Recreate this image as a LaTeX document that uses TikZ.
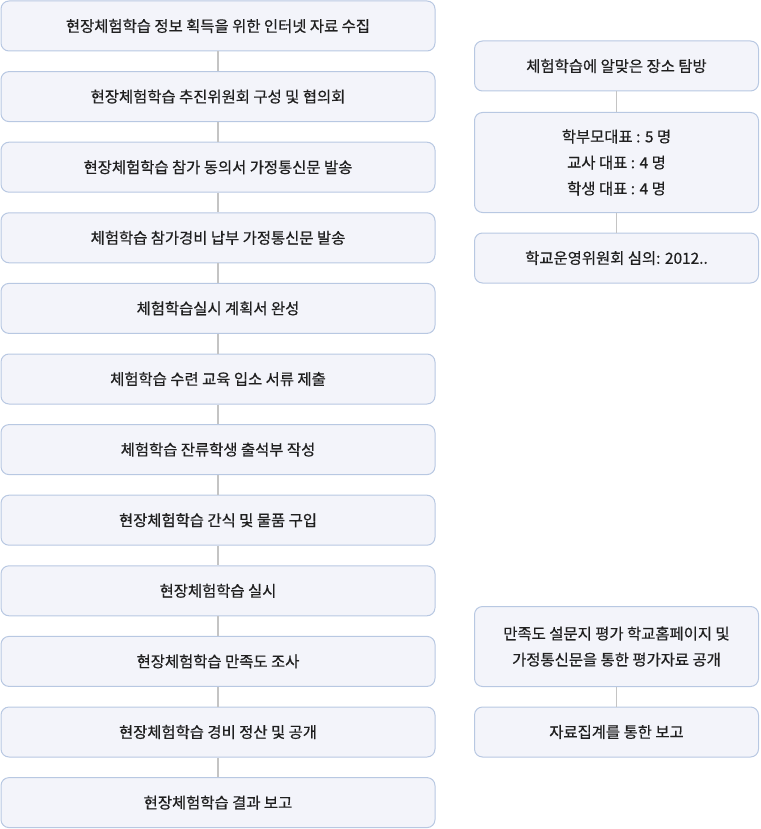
\documentclass[tikz,border=0pt]{standalone}
\usepackage{fontspec}
\setmainfont{Noto Sans CJK KR}[FakeBold=0.6]
\usetikzlibrary{positioning}
\definecolor{boxfill}{HTML}{F3F4FA}
\definecolor{boxline}{HTML}{B8C8E2}
\definecolor{linkline}{HTML}{C4C4C4}
\tikzset{
stepbox/.style={draw=boxline,fill=boxfill,rounded corners=8pt,line width=1pt,align=center,
  font=\fontsize{15.4}{26}\selectfont,text=black!88,inner sep=0pt},
link/.style={draw=linkline,line width=1.6pt}
}

\begin{document}
\begin{tikzpicture}[x=1pt,y=-1pt]
\useasboundingbox (0,0) rectangle (760,829);
\foreach \t [count=\i] in {현장체험학습 정보 획득을 위한 인터넷 자료 수집,
  현장체험학습 추진위원회 구성 및 협의회,
  현장체험학습 참가 동의서 가정통신문 발송,
  체험학습 참가경비 납부 가정통신문 발송,
  체험학습실시 계획서 완성,
  체험학습 수련 교육 입소 서류 제출,
  체험학습 잔류학생 출석부 작성,
  현장체험학습 간식 및 물품 구입,
  현장체험학습 실시,
  현장체험학습 만족도 조사,
  현장체험학습 경비 정산 및 공개,
  현장체험학습 결과 보고}{
\node[stepbox,minimum width=434pt,minimum height=50pt] (l\i) at (218,{26+70.6*(\i-1)}) {\t};
}
\foreach \i [evaluate=\i as \j using int(\i+1)] in {1,...,11}{
\draw[link] (l\i) -- (l\j);
}
\node[stepbox,minimum width=284pt,minimum height=50pt] (r1) at (616.5,66) {체험학습에 알맞은 장소 탐방};
\node[stepbox,minimum width=284pt,minimum height=100pt] (r2) at (616.5,162.5) {학부모대표 : 5 명\\교사 대표 : 4 명\\학생 대표 : 4 명};
\node[stepbox,minimum width=284pt,minimum height=50pt] (r3) at (616.5,258) {학교운영위원회 심의: 2012..};
\node[stepbox,minimum width=284pt,minimum height=80pt] (r4) at (616.5,646.5) {만족도 설문지 평가 학교홈페이지 및\\가정통신문을 통한 평가자료 공개};
\node[stepbox,minimum width=284pt,minimum height=50pt] (r5) at (616.5,732) {자료집계를 통한 보고};
\draw[link] (r1) -- (r2);
\draw[link] (r2) -- (r3);
\draw[link] (r4) -- (r5);
\end{tikzpicture}
\end{document}
